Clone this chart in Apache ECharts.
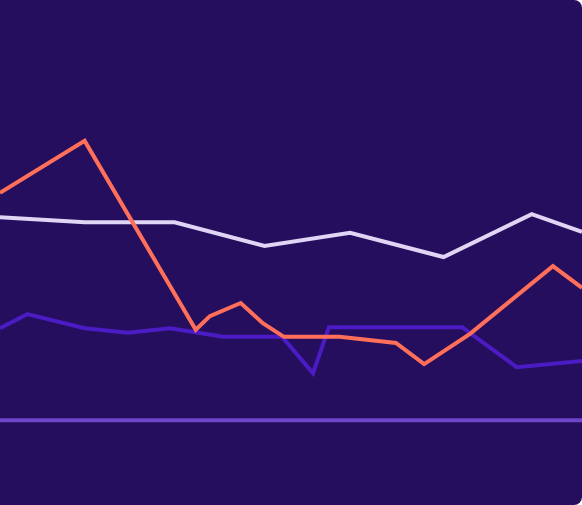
<!DOCTYPE html>
<html lang="en">
<head>
    <meta charset="UTF-8">
    <title>lines</title>
    <script src="https://cdn.jsdelivr.net/npm/echarts@6/dist/echarts.min.js"></script>
    <style>
        html, body { margin: 0; padding: 0; background: #ffffff; }
    </style>
</head>
<body>
    <div id="main" style="width:582px;height:505px;"></div>
<script type="text/javascript">
    // data: [x, value]
    var whiteData = [[0, 57.0], [9.6, 56.0], [19.8, 56.0], [30.0, 51.3], [39.7, 53.9], [50.3, 49.1], [60.3, 57.6], [66, 54.1]];
    var coralData = [[0, 61.8], [9.6, 72.1], [22.2, 34.7], [23.8, 37.4], [27.3, 40.0], [29.8, 36.0], [32.2, 33.3],
        [38.5, 33.3], [44.9, 32.1], [48.1, 27.9], [53.3, 33.9], [62.7, 47.3], [66, 43.0]];
    var violetData = [[0, 35.0], [3.1, 37.8], [9.6, 35.0], [14.5, 34.1], [19.3, 35.0], [25.3, 33.3], [32.0, 33.3],
        [35.5, 26.1], [37.3, 35.2], [52.4, 35.2], [58.6, 27.3], [66, 28.5]];
    var baseData = [[0, 16.8], [66, 16.8]];

    var myChart = echarts.init(document.getElementById('main'));

    function lineSeries(data, color) {
        return {
            type: 'line',
            data: data,
            symbol: 'none',
            animation: false,
            lineStyle: { color: color, width: 4, join: 'miter' }
        };
    }

    var option = {
        graphic: [{
            type: 'rect',
            z: -10,
            shape: { x: -20, y: 0, width: 602, height: 505, r: [0, 8, 8, 0] },
            style: { fill: '#250e5e' }
        }],
        grid: { left: 0, right: 0, top: 0, bottom: 0 },
        xAxis: {
            type: 'value', min: 0, max: 66,
            axisLine: { show: false }, axisTick: { show: false },
            axisLabel: { show: false }, splitLine: { show: false }
        },
        yAxis: {
            type: 'value', min: 0, max: 100,
            axisLine: { show: false }, axisTick: { show: false },
            axisLabel: { show: false }, splitLine: { show: false }
        },
        series: [
            lineSeries(baseData, '#6e45cb'),
            lineSeries(violetData, '#4b1bc4'),
            lineSeries(whiteData, '#e1d5f5'),
            lineSeries(coralData, '#ff6f5a')
        ]
    };

    myChart.setOption(option);
</script>
</body>
</html>
